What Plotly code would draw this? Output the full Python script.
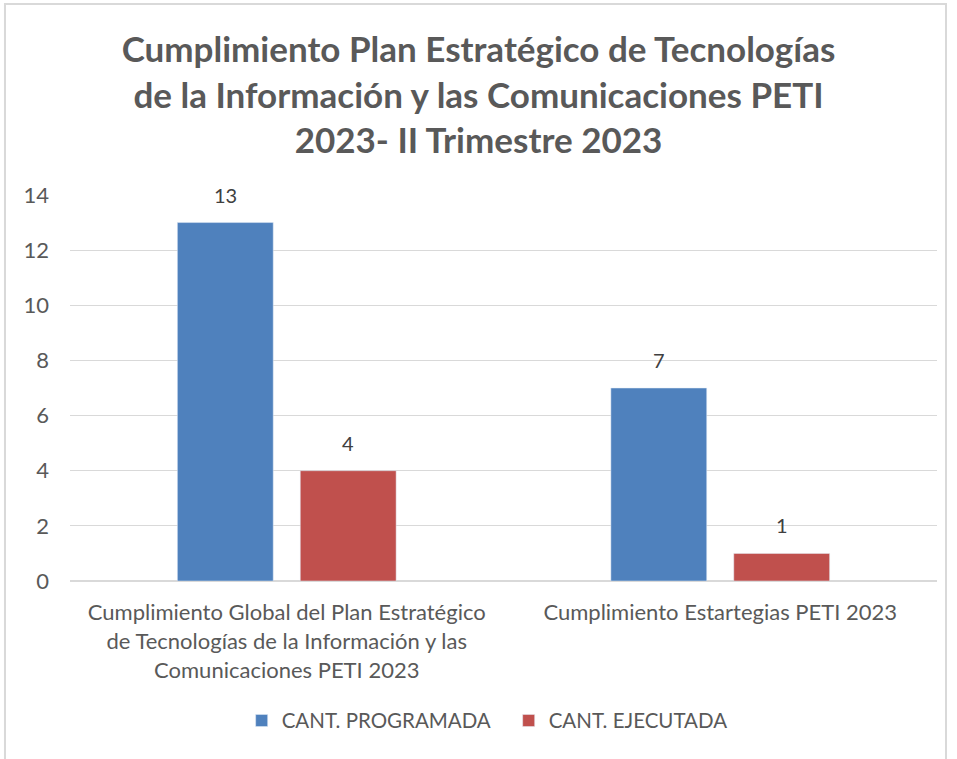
import plotly.graph_objects as go

categories = [
    "Cumplimiento Global del Plan Estratégico<br>de Tecnologías de la Información y las<br>Comunicaciones PETI 2023",
    "Cumplimiento Estartegias PETI 2023",
]
programada = [13, 7]
ejecutada = [4, 1]

font_family = "Lato, sans-serif"
gray = "#595959"

fig = go.Figure()
fig.add_trace(go.Bar(x=categories, y=programada, name="CANT. PROGRAMADA",
                     marker_color="#4f81bd"))
fig.add_trace(go.Bar(x=categories, y=ejecutada, name="CANT. EJECUTADA",
                     marker_color="#c0504d"))

# value labels above bars (offset to the grouped bar positions)
for vals, dx in [(programada, -61.5), (ejecutada, 61.5)]:
    for c, v in zip(categories, vals):
        fig.add_annotation(x=c, y=v, text=str(v), showarrow=False, xshift=dx,
                           yanchor="middle", yshift=28,
                           font=dict(size=20, color="#404040", family=font_family))

fig.update_layout(
    width=957, height=759,
    font=dict(family=font_family, color=gray, size=22),
    title=dict(text="Cumplimiento Plan Estratégico de Tecnologías<br>de la Información y las Comunicaciones PETI<br>2023- II Trimestre 2023",
               x=0.5, xanchor="center", yref="container", y=0.918, yanchor="middle",
               font=dict(size=35, color=gray, family=font_family, weight="bold")),
    paper_bgcolor="white", plot_bgcolor="white",
    margin=dict(l=70, r=20, t=195, b=178),
    barmode="group", bargap=0.433, bargroupgap=0.22,
    legend=dict(orientation="h", x=0.198, xanchor="left", y=-0.31, yanchor="top",
                entrywidth=222, font=dict(size=20.5, color=gray)),
    yaxis=dict(range=[0, 14], dtick=2, showgrid=True, gridcolor="#d9d9d9", gridwidth=1,
               zeroline=True, zerolinecolor="#d9d9d9", tickfont=dict(size=22, color=gray),
               ticks="", ticklabelstandoff=20),
    xaxis=dict(showline=True, linecolor="#d9d9d9", tickfont=dict(size=22, color=gray),
               ticks="", ticklabelstandoff=12),
    shapes=[dict(type="rect", xref="paper", yref="paper", x0=-0.075, x1=1.0104,
                 y0=-0.6, y1=1.4948, line=dict(color="#d9d9d9", width=2), layer="below")],
)

fig.write_html("out.html", config={"displayModeBar": False},
               post_script="document.body.style.margin='0px';")
